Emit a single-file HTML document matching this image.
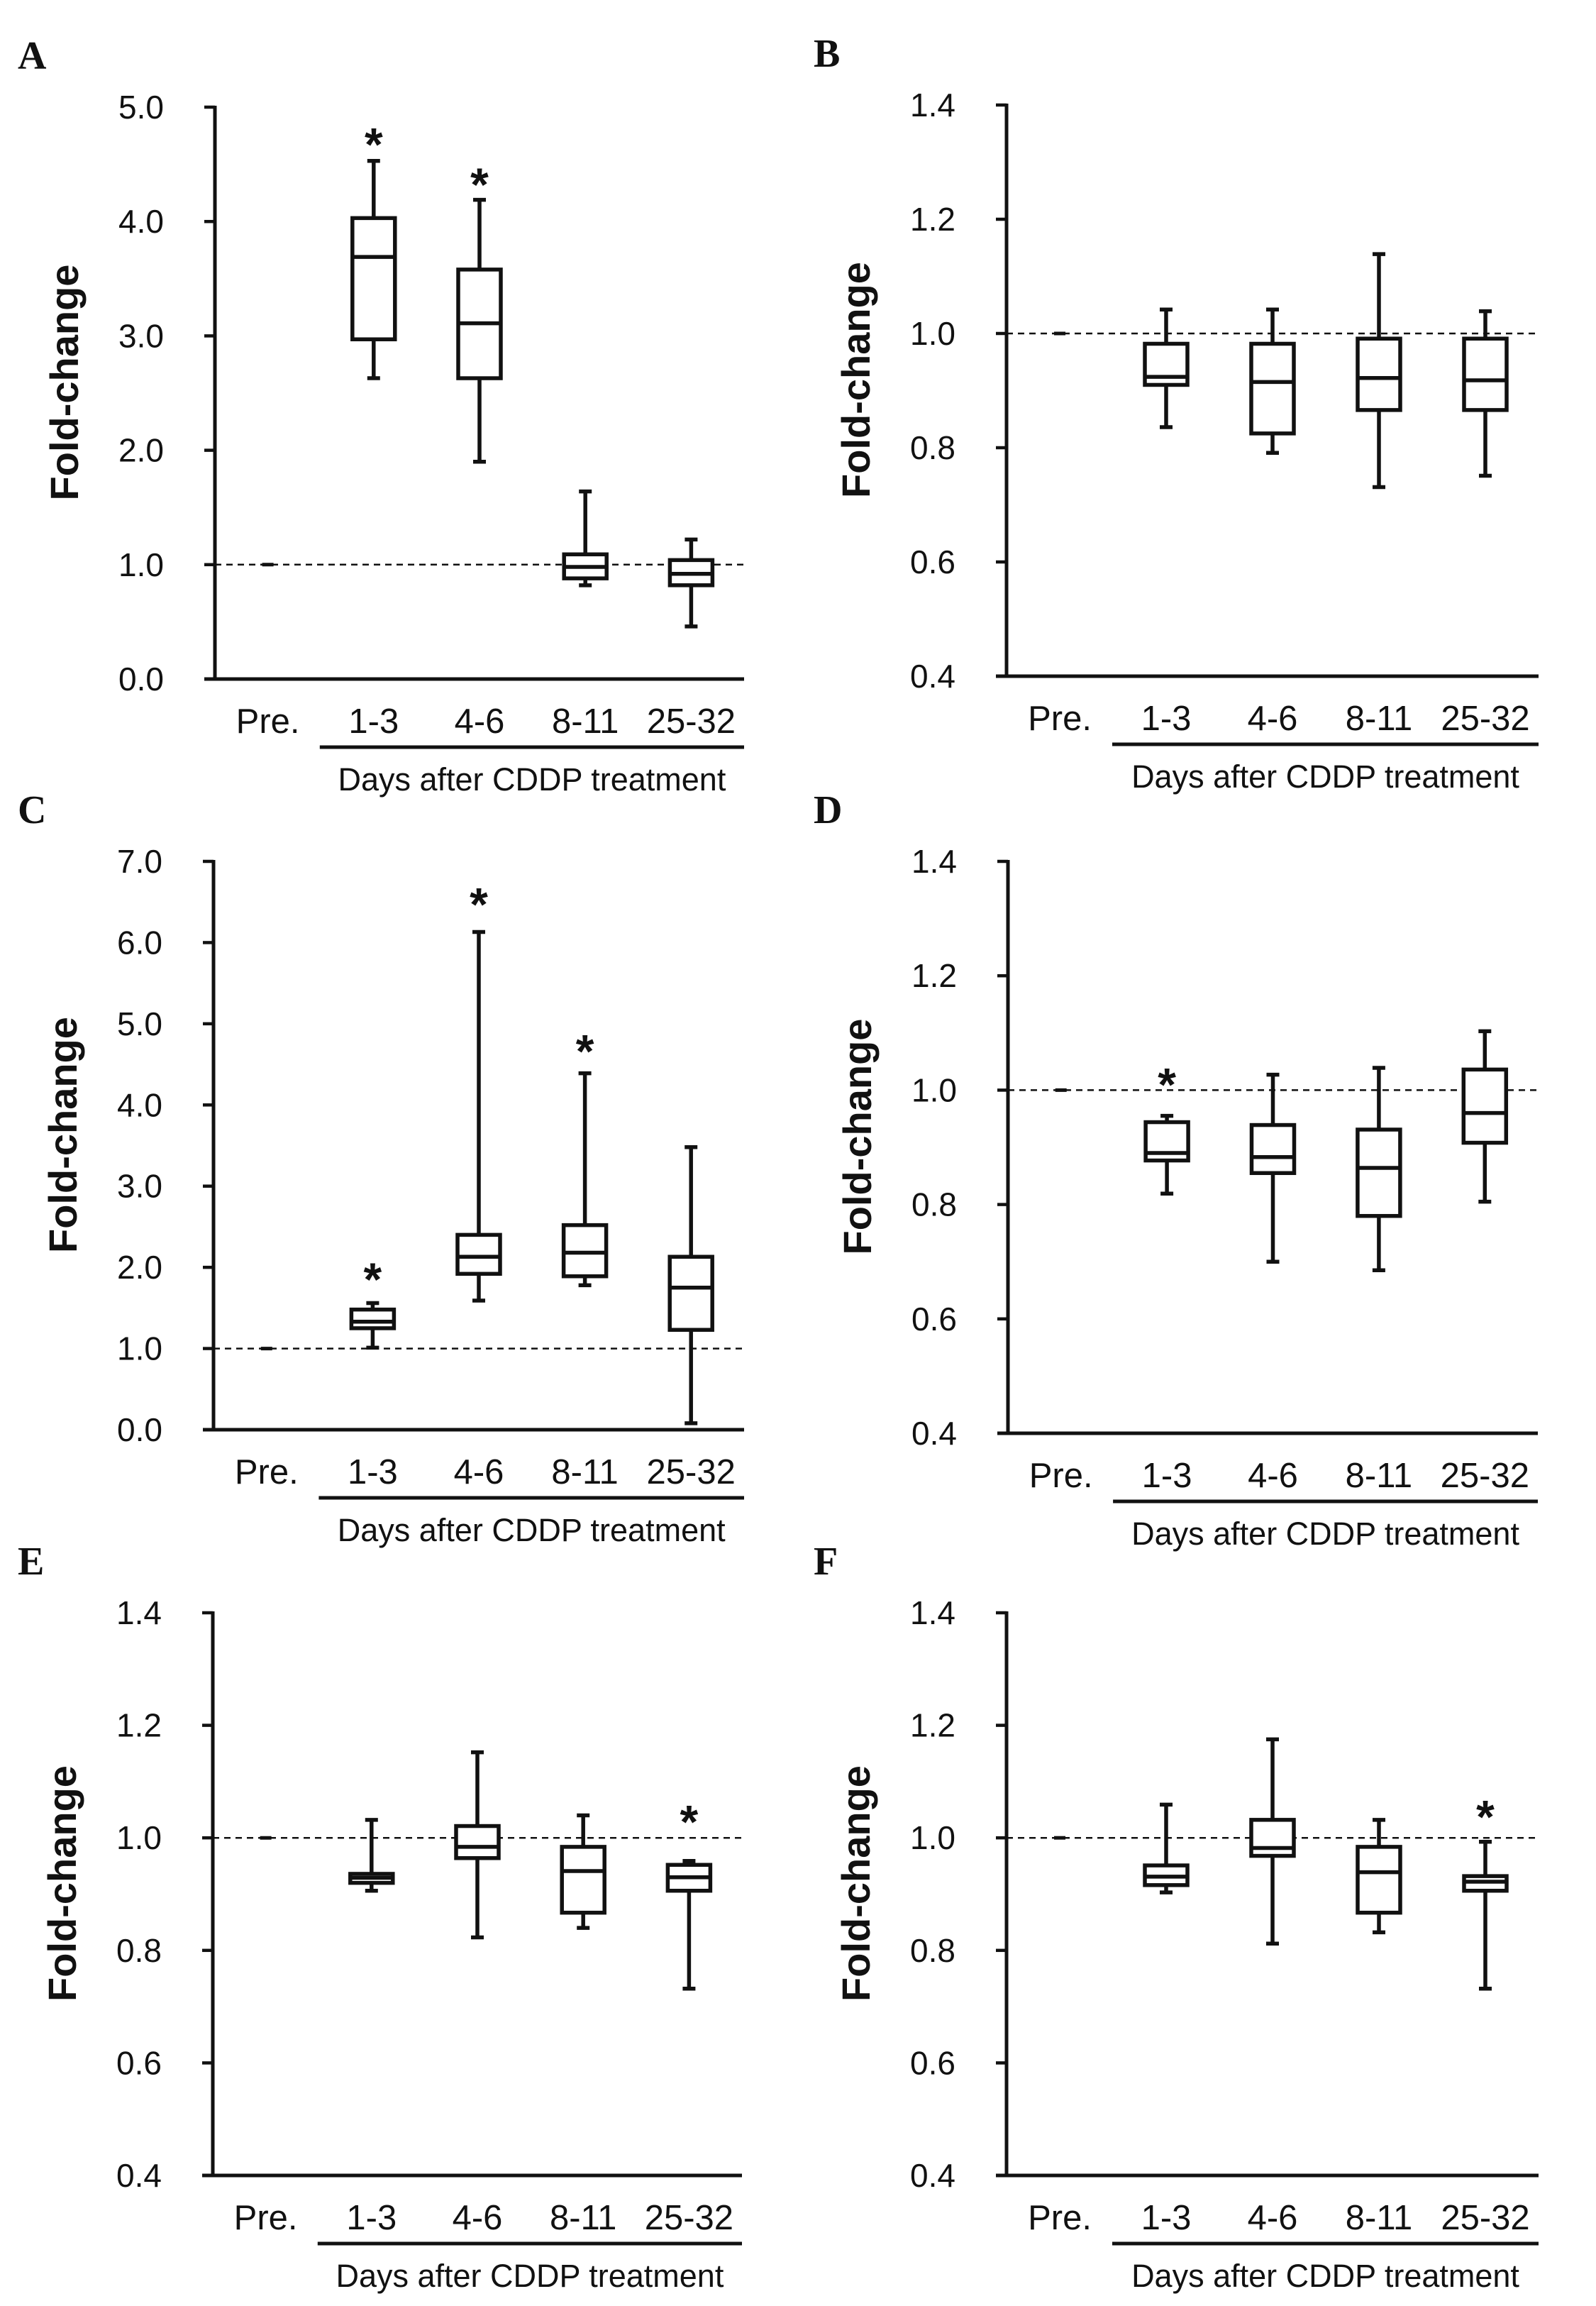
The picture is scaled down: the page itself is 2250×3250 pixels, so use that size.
<!DOCTYPE html>
<html><head><meta charset="utf-8"><style>
html,body{margin:0;padding:0;background:#fff;}
svg{display:block;}
text{font-family:"Liberation Sans",Arial,sans-serif;fill:#111;}
</style></head>
<body>
<svg id="fig" width="2250" height="3250" viewBox="0 0 2250 3250" xmlns="http://www.w3.org/2000/svg"></svg>
<script>
const categories = ["Pre.", "1-3", "4-6", "8-11", "25-32"];

// Panel A
const A_low  = [1.0, 2.63, 1.90, 0.82, 0.46];
const A_q1   = [1.0, 2.97, 2.63, 0.88, 0.82];
const A_med  = [1.0, 3.69, 3.11, 0.98, 0.92];
const A_q3   = [1.0, 4.03, 3.58, 1.09, 1.04];
const A_high = [1.0, 4.53, 4.19, 1.64, 1.22];
const A_star = [null, 4.78, 4.43, null, null];
const A_ticks = [0, 1, 2, 3, 4, 5];

// Panel B
const B_low  = [1.0, 0.836, 0.791, 0.731, 0.751];
const B_q1   = [1.0, 0.910, 0.825, 0.866, 0.866];
const B_med  = [1.0, 0.924, 0.915, 0.922, 0.918];
const B_q3   = [1.0, 0.982, 0.982, 0.991, 0.991];
const B_high = [1.0, 1.042, 1.042, 1.139, 1.039];
const B_star = [null, null, null, null, null];

// Panel C
const C_low  = [1.0, 1.01, 1.59, 1.78, 0.08];
const C_q1   = [1.0, 1.25, 1.92, 1.89, 1.23];
const C_med  = [1.0, 1.33, 2.13, 2.18, 1.75];
const C_q3   = [1.0, 1.48, 2.40, 2.52, 2.13];
const C_high = [1.0, 1.56, 6.13, 4.39, 3.48];
const C_star = [null, 2.00, 6.62, 4.81, null];
const C_ticks = [0, 1, 2, 3, 4, 5, 6, 7];

// Panel D
const D_low  = [1.0, 0.819, 0.700, 0.685, 0.805];
const D_q1   = [1.0, 0.877, 0.855, 0.780, 0.908];
const D_med  = [1.0, 0.890, 0.883, 0.864, 0.960];
const D_q3   = [1.0, 0.944, 0.939, 0.931, 1.036];
const D_high = [1.0, 0.955, 1.027, 1.039, 1.103];
const D_star = [null, 1.031, null, null, null];

// Panel E
const E_low  = [1.0, 0.906, 0.823, 0.840, 0.732];
const E_q1   = [1.0, 0.920, 0.964, 0.867, 0.906];
const E_med  = [1.0, 0.929, 0.984, 0.941, 0.930];
const E_q3   = [1.0, 0.936, 1.021, 0.984, 0.952];
const E_high = [1.0, 1.032, 1.152, 1.040, 0.959];
const E_star = [null, null, null, null, 1.05];

// Panel F
const F_low  = [1.0, 0.903, 0.812, 0.832, 0.732];
const F_q1   = [1.0, 0.916, 0.968, 0.867, 0.906];
const F_med  = [1.0, 0.931, 0.982, 0.939, 0.922];
const F_q3   = [1.0, 0.951, 1.032, 0.984, 0.932];
const F_high = [1.0, 1.059, 1.175, 1.032, 0.993];
const F_star = [null, null, null, null, 1.059];

const small_ticks = [0.4, 0.6, 0.8, 1.0, 1.2, 1.4];

const NS = "http://www.w3.org/2000/svg";
const svg = document.getElementById("fig");
function mk(tag, attrs, parent, txt) {
  const e = document.createElementNS(NS, tag);
  for (const k in attrs) e.setAttribute(k, attrs[k]);
  if (txt !== undefined) e.textContent = txt;
  (parent || svg).appendChild(e);
  return e;
}

const panels = [
  {id:"a", letter:"A", ax:303, top:151, bot:957, right:1049, lx:25, data:[A_low,A_q1,A_med,A_q3,A_high,A_star], ticks:A_ticks},
  {id:"b", letter:"B", ax:1419, top:148, bot:953, right:2169, lx:1147, data:[B_low,B_q1,B_med,B_q3,B_high,B_star], ticks:small_ticks},
  {id:"c", letter:"C", ax:301, top:1214, bot:2015, right:1049, lx:25, data:[C_low,C_q1,C_med,C_q3,C_high,C_star], ticks:C_ticks},
  {id:"d", letter:"D", ax:1421, top:1214, bot:2020, right:2168, lx:1147, data:[D_low,D_q1,D_med,D_q3,D_high,D_star], ticks:small_ticks},
  {id:"e", letter:"E", ax:300, top:2273, bot:3066, right:1046, lx:25, data:[E_low,E_q1,E_med,E_q3,E_high,E_star], ticks:small_ticks},
  {id:"f", letter:"F", ax:1419, top:2273, bot:3066, right:2169, lx:1147, data:[F_low,F_q1,F_med,F_q3,F_high,F_star], ticks:small_ticks}
];

panels.forEach(p => {
  const g = mk("g", {});
  
  
  const tmin = p.ticks[0], tmax = p.ticks[p.ticks.length - 1];
  const y = v => p.bot - (v - tmin) / (tmax - tmin) * (p.bot - p.top);
  const bw = (p.right - p.ax) / categories.length;
  const x = i => p.ax + (i + 0.5) * bw;

  const lt = mk("text", {x:p.lx, y:p.top - 54, "font-size":56, "font-weight":"bold", style:"font-family:'Liberation Serif',serif"}, g, p.letter);
  
  

  const dl = mk("line", {x1:p.ax, x2:p.right, y1:y(1), y2:y(1), stroke:"#111", "stroke-width":2.5, "stroke-dasharray":"9 7"}, g);
  
  

  const ya = mk("line", {x1:p.ax, x2:p.ax, y1:p.top - 2, y2:p.bot, stroke:"#111", "stroke-width":5}, g);
  
  
  const xa = mk("line", {x1:p.ax - 15, x2:p.right, y1:p.bot, y2:p.bot, stroke:"#111", "stroke-width":5}, g);
  
  

  p.ticks.forEach(t => {
    mk("line", {x1:p.ax - 15, x2:p.ax, y1:y(t), y2:y(t), stroke:"#111", "stroke-width":4.5}, g);
    const tl = mk("text", {x:p.ax - 72, y:y(t) + 16, "font-size":46, "text-anchor":"end"}, g, t.toFixed(1));
    
    
  });

  const yc = (p.top + p.bot) / 2 - 15;
  const yl = mk("text", {x:p.ax - 213, y:yc, dy:20, "font-size":56, "font-weight":"bold", "text-anchor":"middle",
    transform:`rotate(-90 ${p.ax - 213} ${yc})`}, g, "Fold-change");
  
  

  categories.forEach((c, i) => {
    const cl = mk("text", {x:x(i), y:p.bot + 76, "font-size":49, "text-anchor":"middle"}, g, c);
    
    
  });
  const ul = mk("line", {x1:x(1) - 76, x2:p.right, y1:p.bot + 96, y2:p.bot + 96, stroke:"#111", "stroke-width":5}, g);
  
  
  const xt = mk("text", {x:(x(1) - 76 + p.right) / 2, y:p.bot + 157, "font-size":45, "text-anchor":"middle"}, g, "Days after CDDP treatment");
  
  

  const [lo, q1, med, q3, hi, star] = p.data;
  categories.forEach((c, i) => {
    const cx = x(i);
    if (i === 0) {
      const pm = mk("line", {x1:cx - 8, x2:cx + 8, y1:y(med[i]), y2:y(med[i]), stroke:"#111", "stroke-width":5}, g);
      
      
      return;
    }
    const bg = mk("g", {stroke:"#111", "stroke-width":5.5, fill:"none"}, g);
    
    
    mk("line", {x1:cx, x2:cx, y1:y(hi[i]), y2:y(q3[i])}, bg);
    mk("line", {x1:cx, x2:cx, y1:y(q1[i]), y2:y(lo[i])}, bg);
    mk("line", {x1:cx - 9, x2:cx + 9, y1:y(hi[i]), y2:y(hi[i])}, bg);
    mk("line", {x1:cx - 9, x2:cx + 9, y1:y(lo[i]), y2:y(lo[i])}, bg);
    mk("rect", {x:cx - 30, y:y(q3[i]), width:60, height:Math.max(1, y(q1[i]) - y(q3[i])), fill:"#fff"}, bg);
    mk("line", {x1:cx - 30, x2:cx + 30, y1:y(med[i]), y2:y(med[i])}, bg);
    if (star[i] !== null) {
      const st = mk("text", {x:cx, y:y(star[i]) + 40, "font-size":66, "font-weight":"bold", "text-anchor":"middle"}, g, "*");
      
      
    }
  });
});
</script>
</body></html>
